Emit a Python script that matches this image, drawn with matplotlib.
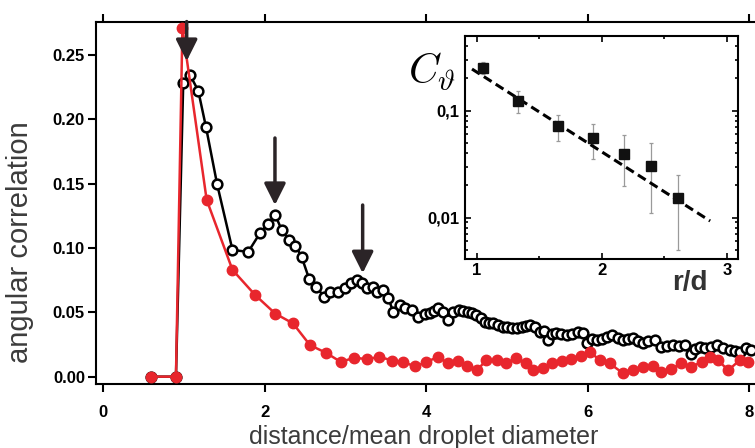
import matplotlib
matplotlib.use("Agg")
import matplotlib.pyplot as plt
from matplotlib.patches import ArrowStyle
from matplotlib.ticker import FixedLocator, FixedFormatter, NullFormatter, LogLocator

plt.rcParams["mathtext.fontset"] = "cm"

# main panel: red series (filled circles)
red_x = [0.59, 0.90, 0.98, 1.28, 1.60, 1.88, 2.13, 2.35, 2.56, 2.76, 2.94, 3.11,
         3.27, 3.42, 3.58, 3.71, 3.86, 4.00, 4.14, 4.27, 4.39, 4.51, 4.63, 4.74,
         4.87, 4.99, 5.11, 5.23, 5.32, 5.44, 5.56, 5.68, 5.79, 5.91, 6.03, 6.15,
         6.27, 6.44, 6.56, 6.68, 6.81, 6.91, 7.03, 7.16, 7.28, 7.41, 7.51, 7.61,
         7.74, 7.88, 7.98]
red_y = [0.0, 0.0, 0.271, 0.1375, 0.083, 0.0635, 0.049, 0.0414, 0.0245, 0.0185,
         0.0115, 0.0147, 0.0136, 0.0154, 0.0125, 0.0115, 0.0080, 0.0112, 0.0154,
         0.0105, 0.0118, 0.0085, 0.0050, 0.0128, 0.0128, 0.0105, 0.0142, 0.0105,
         0.0050, 0.0070, 0.0108, 0.0118, 0.0135, 0.0160, 0.0190, 0.0128, 0.0103,
         0.0025, 0.0050, 0.0076, 0.0085, 0.0037, 0.0060, 0.0103, 0.0076, 0.0115,
         0.0154, 0.0128, 0.0050, 0.0128, 0.0115]

# main panel: black series (open circles)
black_x = [0.59, 0.90, 0.99, 1.074, 1.176, 1.272, 1.41, 1.60, 1.795, 1.94, 2.04,
           2.13, 2.21, 2.30, 2.38, 2.455, 2.55, 2.64, 2.735, 2.81, 2.91, 2.99,
           3.07, 3.14, 3.20, 3.26, 3.34, 3.39, 3.47, 3.53, 3.59, 3.67, 3.74, 3.82,
           3.90, 3.98, 4.04, 4.10, 4.15, 4.21, 4.27, 4.33, 4.40, 4.46, 4.52, 4.57,
           4.62, 4.68, 4.73, 4.78, 4.83, 4.89, 4.95, 5.00, 5.06, 5.12, 5.18, 5.23,
           5.28, 5.34, 5.41, 5.46, 5.51, 5.56, 5.61, 5.67, 5.74, 5.80, 5.88, 5.94,
           5.99, 6.05, 6.11, 6.17, 6.24, 6.30, 6.37, 6.44, 6.50, 6.56, 6.62, 6.68,
           6.75, 6.83, 6.91, 6.98, 7.06, 7.13, 7.20, 7.28, 7.33, 7.39, 7.45, 7.52,
           7.60, 7.68, 7.76, 7.82, 7.89, 7.96, 8.02]
black_y = [0.0, 0.0, 0.228, 0.2345, 0.2223, 0.194, 0.1495, 0.0985, 0.097, 0.1115,
           0.119, 0.1255, 0.114, 0.1063, 0.1019, 0.0933, 0.0759, 0.0700, 0.0617,
           0.0660, 0.0655, 0.0687, 0.0726, 0.0751, 0.0726, 0.0687, 0.0695, 0.0660,
           0.0670, 0.0610, 0.0505, 0.0557, 0.0531, 0.0518, 0.0460, 0.0490, 0.0495,
           0.0510, 0.0530, 0.0505, 0.0441, 0.0505, 0.0518, 0.0510, 0.0505, 0.0495,
           0.0480, 0.0455, 0.0427, 0.0420, 0.0415, 0.0400, 0.0389, 0.0385, 0.0376,
           0.0380, 0.0389, 0.0395, 0.0402, 0.0385, 0.0350, 0.0355, 0.0285, 0.0330,
           0.0337, 0.0330, 0.0324, 0.0335, 0.0350, 0.0337, 0.0260, 0.0290, 0.0285,
           0.0295, 0.0310, 0.0324, 0.0300, 0.0285, 0.0290, 0.0300, 0.0280, 0.0260,
           0.0275, 0.0285, 0.0233, 0.0240, 0.0246, 0.0240, 0.0245, 0.0180, 0.0215,
           0.0233, 0.0225, 0.0230, 0.0246, 0.0225, 0.0207, 0.0200, 0.0195, 0.0220,
           0.0207]

# arrows marking the peaks
arrow_x = [1.033, 2.126, 3.212]
arrow_top = [0.276, 0.1855, 0.1334]
arrow_tip = [0.2453, 0.1334, 0.0804]

# inset: C_theta vs r/d
ins_x = [1.048, 1.325, 1.645, 1.928, 2.181, 2.392, 2.608]
ins_y = [0.252, 0.124, 0.072, 0.0556, 0.0396, 0.0306, 0.0152]
ins_hi = [0.287, 0.153, 0.0904, 0.0756, 0.0587, 0.0502, 0.0249]
ins_lo = [0.220, 0.0944, 0.0517, 0.0356, 0.0199, 0.0111, 0.00499]
fit_x = [0.96, 2.867]
fit_y = [0.245, 0.0093]

RED = "#e8262d"
LABEL_FONT = "Liberation Sans"

fig = plt.figure(figsize=(7.55, 4.48), dpi=100)
ax = fig.add_axes([96 / 755, 1 - 384 / 448, 661.4 / 755, 362.3 / 448])

ax.plot(black_x, black_y, "-o", color="black", lw=1.8, ms=7, mfc="white",
        mec="black", mew=1.8, zorder=2)
ax.plot(red_x, red_y, "-o", color=RED, lw=1.8, ms=7.5, mfc=RED, mec=RED,
        zorder=3)

arrow_style = ArrowStyle("-|>", head_length=1.0, head_width=0.5)
for x, top, tip in zip(arrow_x, arrow_top, arrow_tip):
    ax.annotate("", xy=(x, tip), xytext=(x, top),
                arrowprops=dict(arrowstyle=arrow_style, mutation_scale=13,
                                lw=2.5, color="#2b2427", shrinkA=0, shrinkB=0),
                annotation_clip=False, zorder=5)

ax.set_xlim(-0.09, 8.1)
ax.set_ylim(-0.0057, 0.2759)
ax.xaxis.set_major_locator(FixedLocator([0, 2, 4, 6, 8]))
ax.yaxis.set_major_locator(FixedLocator([0, 0.05, 0.10, 0.15, 0.20, 0.25]))
ax.yaxis.set_major_formatter(FixedFormatter(["0.00", "0.05", "0.10", "0.15", "0.20", "0.25"]))
for side in ["left", "bottom", "top"]:
    ax.spines[side].set_linewidth(1.5)
ax.spines["right"].set_visible(False)
ax.tick_params(axis="x", direction="out", length=6, width=1.5, pad=9,
               top=True, labeltop=False)
ax.tick_params(axis="y", direction="out", length=6, width=1.5, pad=2)
for lab in ax.get_xticklabels() + ax.get_yticklabels():
    lab.set_fontfamily(LABEL_FONT)
    lab.set_fontweight("bold")
    lab.set_fontsize(12)

ax.set_xlabel("distance/mean droplet diameter", fontsize=18, color="#3c3c3c",
              fontfamily=LABEL_FONT)
ax.set_ylabel("angular correlation", fontsize=21, color="#3c3c3c",
              fontfamily=LABEL_FONT)
ax.xaxis.set_label_coords(0.495, -0.113)
ax.yaxis.set_label_coords(-0.094, 0.392)

# inset
ins = fig.add_axes([465 / 755, 1 - 259 / 448, 273 / 755, 223 / 448])
lower = [y - lo for y, lo in zip(ins_y, ins_lo)]
upper = [hi - y for y, hi in zip(ins_y, ins_hi)]
ins.errorbar(ins_x, ins_y, yerr=[lower, upper], fmt="none", ecolor="#9a9a9a",
             elinewidth=0.9, capsize=1.5, capthick=0.9, zorder=2)
ins.plot(fit_x, fit_y, "--", color="black", lw=2.2, dashes=(3, 1.6), zorder=3)
ins.plot(ins_x, ins_y, "s", color="#111111", ms=7.5, zorder=4)
ins.set_yscale("log")
ins.set_xlim(0.904, 3.09)
ins.set_ylim(0.0041, 0.499)
ins.xaxis.set_major_locator(FixedLocator([1, 2, 3]))
ins.xaxis.set_minor_locator(FixedLocator([1.5, 2.5]))
ins.yaxis.set_major_locator(FixedLocator([0.01, 0.1]))
ins.yaxis.set_major_formatter(FixedFormatter(["0,01", "0,1"]))
ins.yaxis.set_minor_locator(LogLocator(base=10, subs=range(2, 10)))
ins.yaxis.set_minor_formatter(NullFormatter())
for side in ins.spines:
    ins.spines[side].set_linewidth(1.5)
ins.tick_params(which="both", direction="in", top=True, right=True, width=1.2)
ins.tick_params(which="major", length=4)
ins.tick_params(which="minor", length=2.5)
ins.tick_params(axis="x", pad=3)
ins.tick_params(axis="y", pad=4)
for lab in ins.get_xticklabels() + ins.get_yticklabels():
    lab.set_fontfamily(LABEL_FONT)
    lab.set_fontweight("bold")
    lab.set_fontsize(12)

fig.text(690 / 755, 1 - 283 / 448, "r/d", fontsize=20, fontweight="bold",
         color="#333333", fontfamily=LABEL_FONT, ha="center", va="center")
fig.text(432 / 755, 1 - 72 / 448, r"$C_\vartheta$", fontsize=30,
         ha="center", va="center")

fig.savefig("out.png", dpi=100)
